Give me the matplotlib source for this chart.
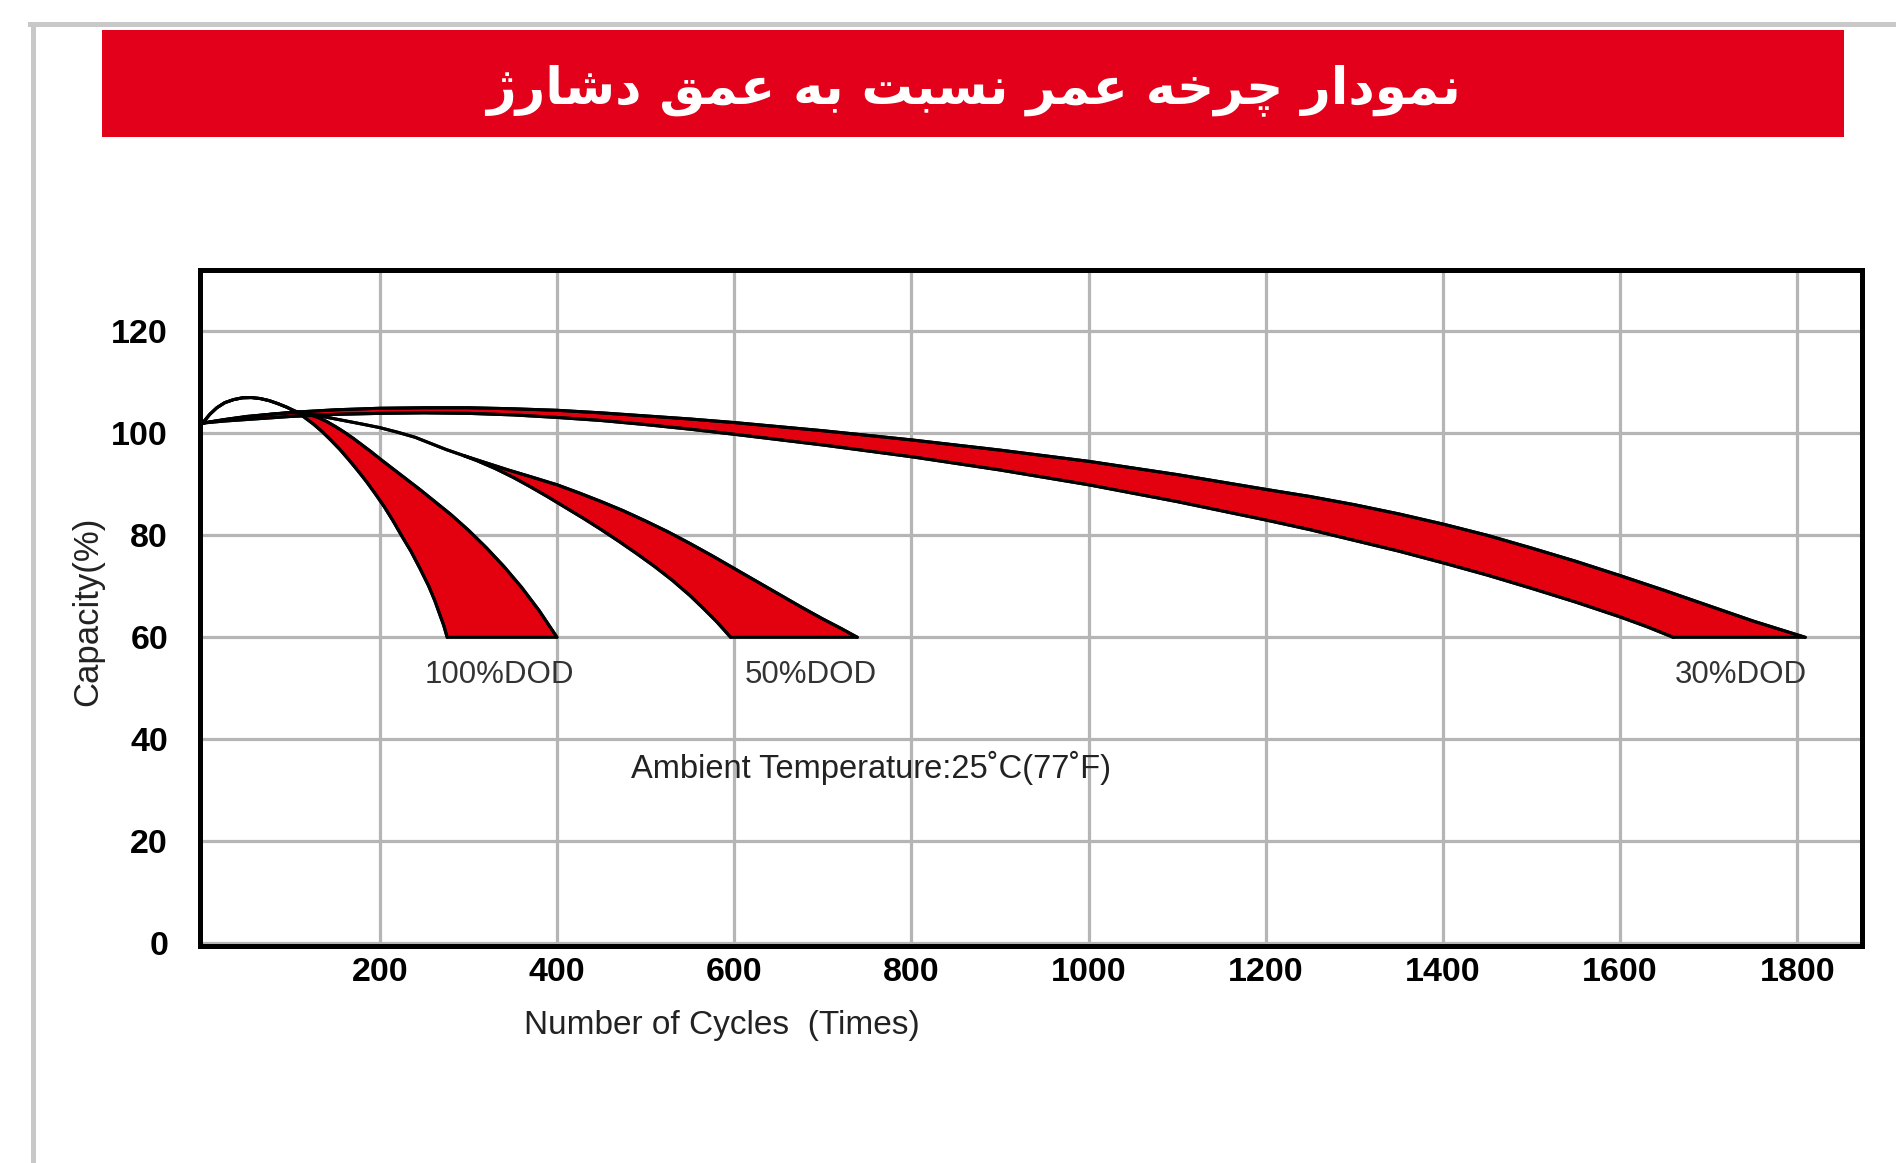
import numpy as np
import matplotlib
matplotlib.use("Agg")
import matplotlib.pyplot as plt
from matplotlib.patches import Rectangle
from matplotlib.lines import Line2D

plt.rcParams["font.family"] = ["Liberation Sans", "DejaVu Sans"]

# ---- data (cycles, capacity %) ----
TITLE = "نمودار چرخه عمر نسبت به عمق دشارژ"

# 100% DOD: right edge (upper) starts on the flat arc, left edge (lower) on the early hump
x100_upper = [0, 20, 40, 60, 80, 100, 110, 120, 130, 140, 150, 160, 170, 180, 190, 200,
              215, 230, 245, 260, 280, 300, 320, 340, 360, 380, 400]
y100_upper = [102, 102.5, 103.0, 103.4, 103.8, 104.0, 104.0, 103.7, 103.1, 102.3, 101.3, 100.2, 99.0, 97.7, 96.4, 95.0,
              93.0, 91.0, 89.0, 86.9, 84.1, 81.0, 77.6, 73.9, 69.8, 65.2, 60]
x100_lower = [0, 8, 16, 25, 35, 45, 55, 65, 75, 85, 95, 105, 115, 125, 135, 145, 155, 165, 175, 185,
              195, 205, 215, 225, 235, 245, 255, 262, 268, 272, 276]
y100_lower = [102, 103.7, 105.0, 106.0, 106.6, 106.95, 107.0, 106.8, 106.4, 105.8, 105.1, 104.2, 103.1, 101.8, 100.3, 98.6,
              96.8, 94.8, 92.7, 90.5, 88.1, 85.6, 82.8, 79.8, 76.9, 73.6, 70.1, 67.2, 64.3, 62.4, 60]

# 50% DOD: both edges follow the hump, split near 295 cycles
x50_upper = [0, 8, 16, 25, 35, 45, 55, 65, 75, 85, 95, 105, 120, 135, 150, 165, 180, 200, 220, 240, 256, 275, 295,
             320, 345, 370, 400, 425, 450, 475, 500, 525, 550, 575, 600, 625, 650, 675, 700, 720, 739]
y50_upper = [102, 103.7, 105.0, 106.0, 106.6, 106.95, 107.0, 106.8, 106.4, 105.8, 105.1, 104.3, 103.8, 103.3, 102.8, 102.3,
             101.8, 101.1, 100.2, 99.2, 98.1, 96.8, 95.6, 94.2, 92.8, 91.5, 89.9, 88.3, 86.6, 84.8, 82.8, 80.7, 78.4,
             76.0, 73.5, 71.0, 68.5, 66.0, 63.6, 61.8, 60]
x50_lower = [0, 8, 16, 25, 35, 45, 55, 65, 75, 85, 95, 105, 120, 135, 150, 165, 180, 200, 220, 240, 256, 275, 295,
             310, 330, 350, 370, 390, 410, 430, 450, 470, 490, 510, 530, 550, 565, 580, 596]
y50_lower = [102, 103.7, 105.0, 106.0, 106.6, 106.95, 107.0, 106.8, 106.4, 105.8, 105.1, 104.3, 103.8, 103.3, 102.8, 102.3,
             101.8, 101.1, 100.2, 99.2, 98.1, 96.8, 95.6, 94.6, 93.1, 91.4, 89.5, 87.5, 85.4, 83.3, 81.1, 78.8, 76.4,
             73.9, 71.2, 68.2, 65.7, 63.1, 60]

# 30% DOD
x30_upper = [0, 25, 50, 100, 150, 200, 250, 300, 350, 400, 450, 500, 550, 600, 700, 800, 900, 1000, 1100, 1200,
             1250, 1300, 1350, 1400, 1450, 1500, 1550, 1600, 1650, 1700, 1750, 1809]
y30_upper = [102, 102.7, 103.3, 104.1, 104.6, 104.9, 105.0, 105.0, 104.8, 104.5, 104.0, 103.4, 102.8, 102.1, 100.5,
             98.7, 96.7, 94.5, 91.9, 89.0, 87.6, 86.0, 84.2, 82.2, 80.0, 77.5, 74.9, 72.1, 69.2, 66.2, 63.2, 60]
x30_lower = [0, 25, 50, 100, 150, 200, 250, 300, 350, 400, 450, 500, 550, 600, 700, 800, 900, 1000, 1100, 1200,
             1250, 1300, 1350, 1400, 1450, 1500, 1550, 1600, 1630, 1660]
y30_lower = [102, 102.4, 102.7, 103.3, 103.7, 103.9, 104.0, 103.9, 103.6, 103.1, 102.5, 101.7, 100.8, 99.8, 97.7,
             95.4, 92.8, 89.9, 86.6, 83.0, 81.1, 79.0, 76.9, 74.6, 72.2, 69.6, 66.9, 64.0, 62.1, 60]

# cycle count where each red band opens up (curves coincide / cross before it)
band_start = {"100%DOD": 108, "50%DOD": 295, "30%DOD": 0}
label_pos = {"100%DOD": (335, 52.7), "50%DOD": (686, 52.7), "30%DOD": (1736, 52.7)}

x_ticks = [200, 400, 600, 800, 1000, 1200, 1400, 1600, 1800]
y_ticks = [0, 20, 40, 60, 80, 100, 120]

RED = "#e3000f"

# ---- Persian title: manual shaping since matplotlib has no bidi ----
FORMS = {  # isolated, final, initial, medial
    "ا": ("\uFE8D", "\uFE8E", None, None),
    "ب": ("\uFE8F", "\uFE90", "\uFE91", "\uFE92"),
    "ت": ("\uFE95", "\uFE96", "\uFE97", "\uFE98"),
    "چ": ("\uFB7A", "\uFB7B", "\uFB7C", "\uFB7D"),
    "خ": ("\uFEA5", "\uFEA6", "\uFEA7", "\uFEA8"),
    "د": ("\uFEA9", "\uFEAA", None, None),
    "ر": ("\uFEAD", "\uFEAE", None, None),
    "ژ": ("\uFB8A", "\uFB8B", None, None),
    "س": ("\uFEB1", "\uFEB2", "\uFEB3", "\uFEB4"),
    "ش": ("\uFEB5", "\uFEB6", "\uFEB7", "\uFEB8"),
    "ع": ("\uFEC9", "\uFECA", "\uFECB", "\uFECC"),
    "ق": ("\uFED5", "\uFED6", "\uFED7", "\uFED8"),
    "م": ("\uFEE1", "\uFEE2", "\uFEE3", "\uFEE4"),
    "ن": ("\uFEE5", "\uFEE6", "\uFEE7", "\uFEE8"),
    "ه": ("\uFEE9", "\uFEEA", "\uFEEB", "\uFEEC"),
    "و": ("\uFEED", "\uFEEE", None, None),
}

def shape(text):
    out = []
    for i, ch in enumerate(text):
        if ch not in FORMS:
            out.append(ch)
            continue
        prev = text[i - 1] if i > 0 else " "
        nxt = text[i + 1] if i + 1 < len(text) else " "
        join_prev = prev in FORMS and FORMS[prev][2] is not None
        join_next = FORMS[ch][2] is not None and nxt in FORMS
        iso, fin, ini, med = FORMS[ch]
        if join_prev and join_next:
            out.append(med)
        elif join_prev:
            out.append(fin)
        elif join_next:
            out.append(ini)
        else:
            out.append(iso)
    return "".join(reversed(out))


W, H = 1896, 1163
fig = plt.figure(figsize=(W / 100, H / 100), dpi=100)
fig.patch.set_facecolor("white")

# page border + red banner
fig.add_artist(Line2D([30 / W, 1], [1 - 24 / H] * 2, transform=fig.transFigure, color="#c8c8c8", lw=3.6))
fig.add_artist(Line2D([33 / W] * 2, [1 - 24 / H, 0], transform=fig.transFigure, color="#c8c8c8", lw=3.6))
fig.add_artist(Rectangle((101.6 / W, 1 - 137 / H), (1844 - 101.6) / W, 107 / H,
                         transform=fig.transFigure, facecolor="#e2001a", edgecolor="none"))
fig.text(973 / W, 1 - 90 / H, shape(TITLE), ha="center", va="center", color="white",
         fontsize=37, fontweight="bold", family=["DejaVu Sans"])

ax = fig.add_axes([200 / W, 1 - 946 / H, 1662 / W, 676 / H])
ax.set_xlim(-3, 1873)
ax.set_ylim(-0.5, 132)

ax.set_xticks(x_ticks)
ax.set_yticks(y_ticks)
ax.set_xticklabels([str(v) for v in x_ticks], fontsize=24.5, fontweight="bold")
ax.set_yticklabels([str(v) for v in y_ticks], fontsize=24.5, fontweight="bold")
ax.tick_params(axis="x", length=0, pad=8)
ax.tick_params(axis="y", length=0, pad=23)
ax.grid(True, color="#b5b5b5", lw=2.3, zorder=0)
ax.set_axisbelow(True)
for s in ax.spines.values():
    s.set_linewidth(3.6)
    s.set_color("black")

bands = [
    ("100%DOD", x100_upper, y100_upper, x100_lower, y100_lower),
    ("50%DOD", x50_upper, y50_upper, x50_lower, y50_lower),
    ("30%DOD", x30_upper, y30_upper, x30_lower, y30_lower),
]
for name, xu, yu, xl, yl in bands:
    xu, yu, xl, yl = map(np.asarray, (xu, yu, xl, yl))
    s = band_start[name]
    mu, ml = xu >= s, xl >= s
    px = np.r_[xu[mu], xl[ml][::-1]]
    py = np.r_[yu[mu], yl[ml][::-1]]
    ax.fill(px, py, facecolor=RED, edgecolor="black", lw=2.2, joinstyle="round", zorder=3)
    ax.plot(xu, yu, color="black", lw=2.2, solid_joinstyle="round", solid_capstyle="round", zorder=4)
    ax.plot(xl, yl, color="black", lw=2.2, solid_joinstyle="round", solid_capstyle="round", zorder=4)
    lx, ly = label_pos[name]
    ax.text(lx, ly, name, ha="center", va="center", fontsize=22.5, color="#333333")

ax.text(754, 34.4, "Ambient Temperature:25\u02daC(77\u02daF)", ha="center", va="center",
        fontsize=23.5, color="#222222")

ax.set_xlabel("Number of Cycles  (Times)", fontsize=24, color="#222222", va="center")
ax.xaxis.set_label_coords(0.314, -0.117)
ax.set_ylabel("Capacity(%)", fontsize=25, color="#222222", va="center")
ax.yaxis.set_label_coords(-0.0674, 0.4956)

fig.savefig("out.png", dpi=100)
